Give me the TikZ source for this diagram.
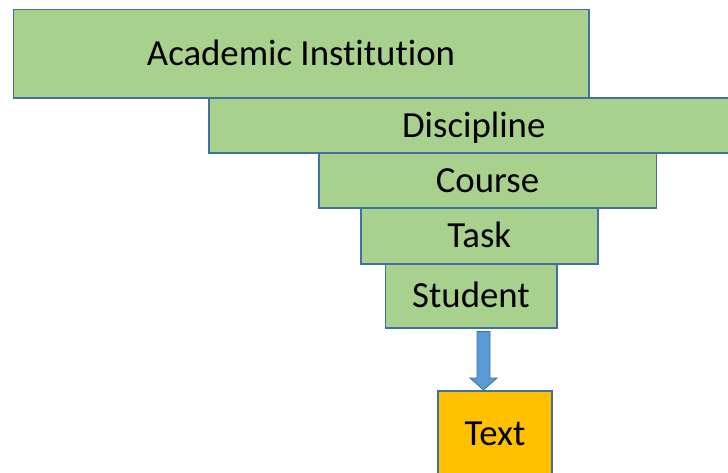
\documentclass[tikz,border=0pt]{standalone}
\usepackage{fontspec}
\setmainfont{Carlito}[Ligatures=NoCommon]
\usetikzlibrary{calc}
\definecolor{boxgreen}{HTML}{A9D18E}
\definecolor{edgeblue}{HTML}{41719C}
\definecolor{arrowblue}{HTML}{5B9BD5}
\definecolor{orangefill}{HTML}{FFC000}
\begin{document}
\begin{tikzpicture}[x=1pt,y=-1pt,
  level/.style={draw=edgeblue, line width=1.5pt, fill=boxgreen,
    font=\fontsize{36.8}{40}\selectfont, inner sep=0pt, anchor=north west,
    text height=23.6pt, text depth=0pt},
  blockarrow/.style={draw=edgeblue, fill=arrowblue, line width=0.8pt}]
\useasboundingbox (0,0) rectangle (728,472);
\clip (0,0) rectangle (728,472);
\node[level, minimum width=575.5pt, minimum height=88.5pt] (acad) at (12.5,8.5) {Academic Institution};
\node[level, minimum width=530pt, minimum height=55pt] (disc) at (208,97) {Discipline};
\node[level, minimum width=337.5pt, minimum height=55pt] (course) at (318,152) {Course};
\node[level, minimum width=237pt, minimum height=56pt] (task) at (360,207) {Task};
\node[level, minimum width=171.5pt, minimum height=64pt] (student) at (384.5,263) {Student};
\node[level, fill=orangefill, minimum width=114pt, minimum height=85pt] (text) at (437.3,390) {Text};
\coordinate (as) at ($(student.south)+(12.5,3)$);
\coordinate (at) at (as |- text.north);
\draw[blockarrow] ($(as)+(-6.5,0)$) -- ($(as)+(6.5,0)$) -- ($(at)+(6.5,-12)$)
  -- ($(at)+(13.5,-12)$) -- (at) -- ($(at)+(-13.5,-12)$) -- ($(at)+(-6.5,-12)$) -- cycle;
\end{tikzpicture}
\end{document}
